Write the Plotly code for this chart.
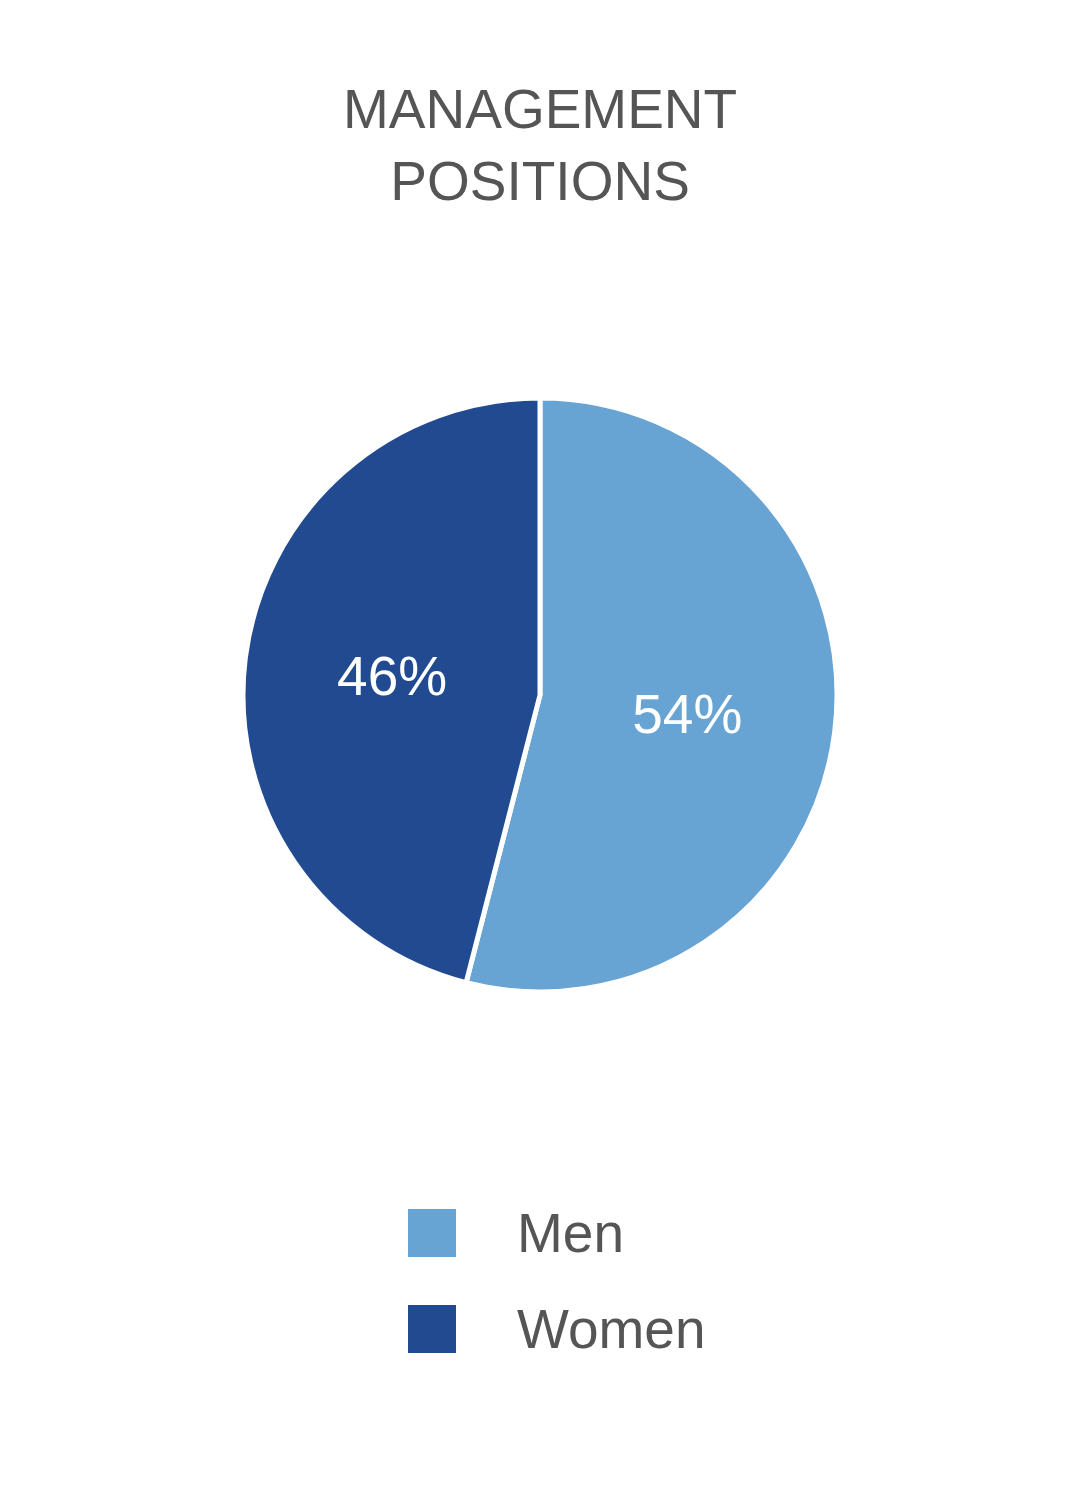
import plotly.graph_objects as go

labels = ["Men", "Women"]
values = [54, 46]
colors = ["#67A3D3", "#224A91"]
title_text = "MANAGEMENT<br>POSITIONS"

W, H = 1080, 1500
OFF = 8  # page body margin compensation
FONT = "Liberation Sans, Arial, Helvetica, sans-serif"
GRAY = "#555555"


def px(x):
    return (x - OFF) / W


def py(y):
    return 1 - (y - OFF) / H


fig = go.Figure()
fig.add_trace(go.Pie(
    labels=labels,
    values=values,
    sort=False,
    direction="clockwise",
    rotation=0,
    marker=dict(colors=colors, line=dict(color="white", width=5)),
    textinfo="percent",
    texttemplate="%{percent:.0%}",
    textposition="inside",
    insidetextorientation="horizontal",
    textfont=dict(family=FONT, size=55, color="white"),
    showlegend=False,
    hoverinfo="label+percent",
    domain=dict(x=[px(243), px(837)], y=[py(992), py(398)]),
))

# Title
fig.add_annotation(
    text=title_text, x=px(540), y=py(76), xref="paper", yref="paper",
    xanchor="center", yanchor="top", showarrow=False, align="center",
    font=dict(family=FONT, size=55, color=GRAY),
)

# Custom legend (large square swatches)
sq = 48
x0 = 408
y_centers = [1233, 1329]
for lab, col, yc in zip(labels, colors, y_centers):
    fig.add_shape(
        type="rect", xref="paper", yref="paper",
        x0=px(x0), x1=px(x0 + sq),
        y0=py(yc + sq / 2), y1=py(yc - sq / 2),
        fillcolor=col, line=dict(width=0),
    )
    fig.add_annotation(
        text=lab, x=px(515), y=py(yc), xref="paper", yref="paper",
        xanchor="left", yanchor="middle", showarrow=False,
        font=dict(family=FONT, size=55, color=GRAY),
    )

fig.update_layout(
    width=W, height=H, autosize=False,
    margin=dict(l=0, r=0, t=0, b=0),
    paper_bgcolor="white", plot_bgcolor="white",
)

fig.write_html("out.html")
